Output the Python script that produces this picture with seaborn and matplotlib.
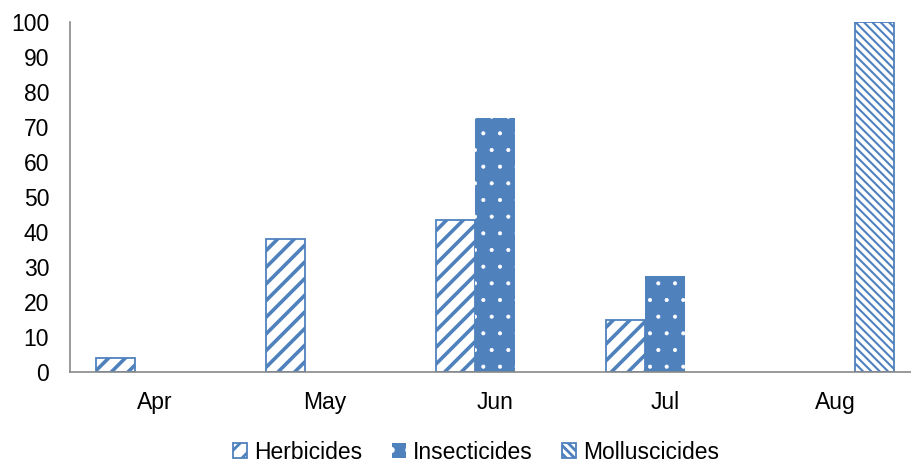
import pandas as pd
import numpy as np
import matplotlib
matplotlib.use('Agg')
import matplotlib.pyplot as plt
import matplotlib.patches as mpatches
import seaborn as sns

months = ['Apr', 'May', 'Jun', 'Jul', 'Aug']
herbicides = [4, 38, 43.5, 15, np.nan]
insecticides = [np.nan, np.nan, 72.5, 27.5, np.nan]
molluscicides = [np.nan, np.nan, np.nan, np.nan, 100]
series = ['Herbicides', 'Insecticides', 'Molluscicides']

BLUE = '#4F81BD'
GREY = '#898989'


def build_frame():
    df = pd.DataFrame({'month': months,
                       'Herbicides': herbicides,
                       'Insecticides': insecticides,
                       'Molluscicides': molluscicides})
    df = df.melt(id_vars='month', var_name='type', value_name='value')
    return df


def style_bar(p, kind):
    if kind == 'Herbicides':
        p.set_facecolor('white')
        p.set_edgecolor(BLUE)
        p.set_linewidth(1.3)
        p.set_hatch('//')
        lw = 2.6
    elif kind == 'Insecticides':
        p.set_facecolor(BLUE)
        p.set_edgecolor('white')
        p.set_linewidth(0)
        p.set_hatch('.')
        lw = 0.5
    else:
        p.set_facecolor('white')
        p.set_edgecolor(BLUE)
        p.set_linewidth(1.3)
        p.set_hatch('\\\\\\\\')
        lw = 1.5
    if hasattr(p, 'set_hatch_linewidth'):
        p.set_hatch_linewidth(lw)


def main():
    sns.set_style('white')
    plt.rcParams['font.family'] = ['Liberation Sans', 'DejaVu Sans']
    plt.rcParams['hatch.linewidth'] = 2.0

    df = build_frame()
    fig = plt.figure(figsize=(9.12, 4.65), dpi=100)
    ax = fig.add_axes([70 / 912, 93 / 465, 842 / 912, 350 / 465])

    sns.barplot(data=df, x='month', y='value', hue='type', order=months,
                hue_order=series, width=0.69, dodge=True, ax=ax, legend=False)

    for cont, kind in zip(ax.containers, series):
        for p in cont:
            style_bar(p, kind)

    ax.set_ylim(0, 100)
    ax.set_yticks(range(0, 101, 10))
    ax.set_xlim(-0.5, 4.453)
    ax.set_xlabel('')
    ax.set_ylabel('')
    ax.tick_params(axis='both', length=0, labelsize=16.5, labelcolor='black')
    ax.tick_params(axis='y', pad=15)
    ax.tick_params(axis='x', pad=14)
    for s in ['top', 'right']:
        ax.spines[s].set_visible(False)
    for s in ['left', 'bottom']:
        ax.spines[s].set_color(GREY)
        ax.spines[s].set_linewidth(1.2)

    handles = []
    for kind in series:
        h = mpatches.Patch(label=kind)
        style_bar(h, kind)
        handles.append(h)
    leg = fig.legend(handles=handles, loc='center', bbox_to_anchor=(476 / 912, 13 / 465),
                     ncol=3, frameon=False, fontsize=16.5, handlelength=0.6,
                     handleheight=0.6, handletextpad=0.3, columnspacing=1.3)
    for t in leg.get_texts():
        t.set_color('black')

    fig.savefig('out.png', dpi=100)


if __name__ == "__main__":
    main()
